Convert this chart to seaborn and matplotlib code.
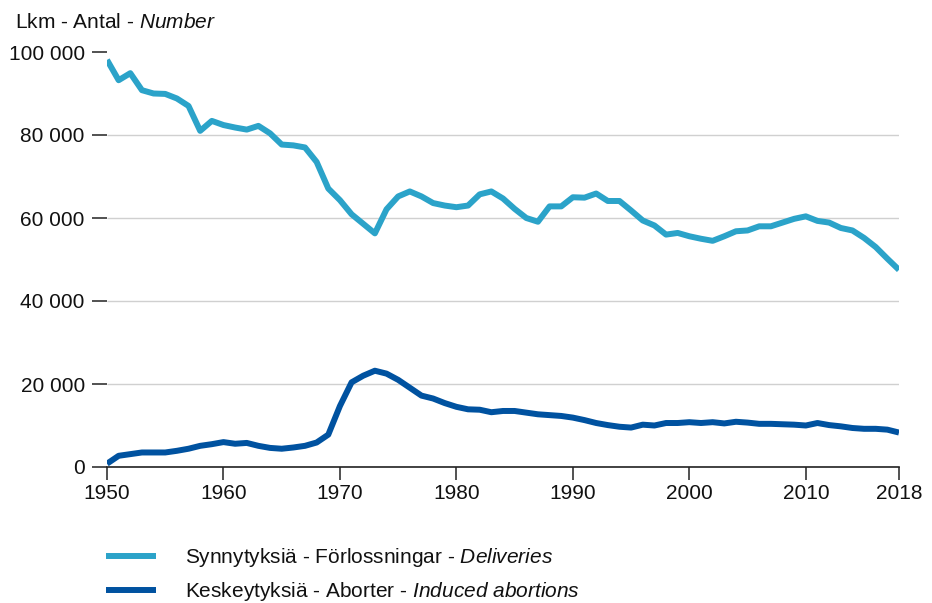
import matplotlib
matplotlib.use("Agg")
import matplotlib.pyplot as plt
import matplotlib.ticker as mticker
import seaborn as sns
import pandas as pd

# Vuodet 1950-2018
vuodet = list(range(1950, 2019))

# Synnytykset (luettu kuvasta)
synnytykset = [
    98100, 93200, 94900, 90800, 90000, 89900, 88800, 87000, 81000, 83400,
    82400, 81800, 81300, 82200, 80400, 77700, 77500, 77000, 73500, 67100,
    64300, 60900, 58600, 56300, 62100, 65200, 66400, 65200, 63600, 63000,
    62600, 63000, 65700, 66400, 64700, 62200, 60000, 59100, 62800, 62800,
    65000, 64900, 65900, 64100, 64100, 61800, 59400, 58200, 56000, 56400,
    55600, 55000, 54500, 55600, 56800, 57000, 58000, 58000, 58900, 59800,
    60400, 59300, 58900, 57600, 57000, 55200, 53000, 50200, 47500,
]

# Raskaudenkeskeytykset
keskeytykset = [
    800, 2700, 3100, 3500, 3500, 3500, 3900, 4400, 5100, 5500,
    6000, 5600, 5800, 5100, 4600, 4400, 4700, 5100, 5900, 7800,
    14700, 20400, 22000, 23200, 22500, 21000, 19100, 17200, 16500, 15400,
    14500, 13900, 13800, 13200, 13500, 13500, 13100, 12700, 12500, 12300,
    11900, 11300, 10600, 10100, 9700, 9500, 10200, 10000, 10600, 10600,
    10800, 10600, 10800, 10500, 10900, 10700, 10400, 10400, 10300, 10200,
    10000, 10600, 10100, 9800, 9400, 9200, 9200, 9000, 8300,
]

x_tikit = [1950, 1960, 1970, 1980, 1990, 2000, 2010, 2018]
y_tikit = [0, 20000, 40000, 60000, 80000, 100000]

df = pd.DataFrame({"vuosi": vuodet, "synnytykset": synnytykset, "keskeytykset": keskeytykset})

sns.set_theme(style="white")
plt.rcParams["font.family"] = ["Liberation Sans", "DejaVu Sans"]
plt.rcParams["mathtext.fontset"] = "custom"
plt.rcParams["mathtext.it"] = "Liberation Sans:italic"
plt.rcParams["mathtext.rm"] = "Liberation Sans"
plt.rcParams["lines.solid_capstyle"] = "butt"

fig = plt.figure(figsize=(9.32, 6.03), dpi=100)
ax = fig.add_axes([107 / 932, 1 - 467 / 603, (899 - 107) / 932, (467 - 52) / 603])

sns.lineplot(data=df, x="vuosi", y="synnytykset", ax=ax, color="#2ba3c9", linewidth=4.3,
             label=r"Synnytyksiä - Förlossningar - $\it{Deliveries}$")
sns.lineplot(data=df, x="vuosi", y="keskeytykset", ax=ax, color="#0052a0", linewidth=4.3,
             label=r"Keskeytyksiä - Aborter - $\it{Induced\ abortions}$")

ax.set_xlim(1950, 2018)
ax.set_ylim(0, 100000)
ax.set_xticks(x_tikit)
ax.set_yticks(y_tikit)
ax.yaxis.set_major_formatter(mticker.FuncFormatter(lambda v, p: f"{int(v):,}".replace(",", " ")))
ax.set_xlabel("")
ax.set_ylabel("")

for s in ["top", "right", "left"]:
    ax.spines[s].set_visible(False)
ax.spines["bottom"].set_color("#222222")
ax.spines["bottom"].set_linewidth(1.2)

ax.grid(axis="y", color="#d0d0d0", linewidth=1.0)
ax.set_axisbelow(True)
# ylin viiva (100 000) ilman ruudukkoa
ax.yaxis.get_gridlines()[-1].set_visible(False)
ax.tick_params(axis="y", length=11, width=1.2, color="#333333", pad=5, labelsize=15, left=True)
ax.tick_params(axis="x", length=9.5, width=1.2, color="#333333", pad=3, labelsize=15, bottom=True)

for lbl in ax.get_xticklabels() + ax.get_yticklabels():
    lbl.set_color("#111111")

fig.text(15 / 932, 1 - 22 / 603, r"Lkm - Antal - $\it{Number}$", fontsize=15, va="center", ha="left",
         color="#111111")

ax.get_legend().remove()
h, l = ax.get_legend_handles_labels()
fig.legend(h, l, loc="upper left", bbox_to_anchor=(106 / 932, 1 - 546 / 603), frameon=False,
           fontsize=15, handlelength=2.4, handletextpad=1.4, labelspacing=0.55, borderpad=0,
           borderaxespad=0, labelcolor="#111111")

fig.savefig("out.png", dpi=100)
